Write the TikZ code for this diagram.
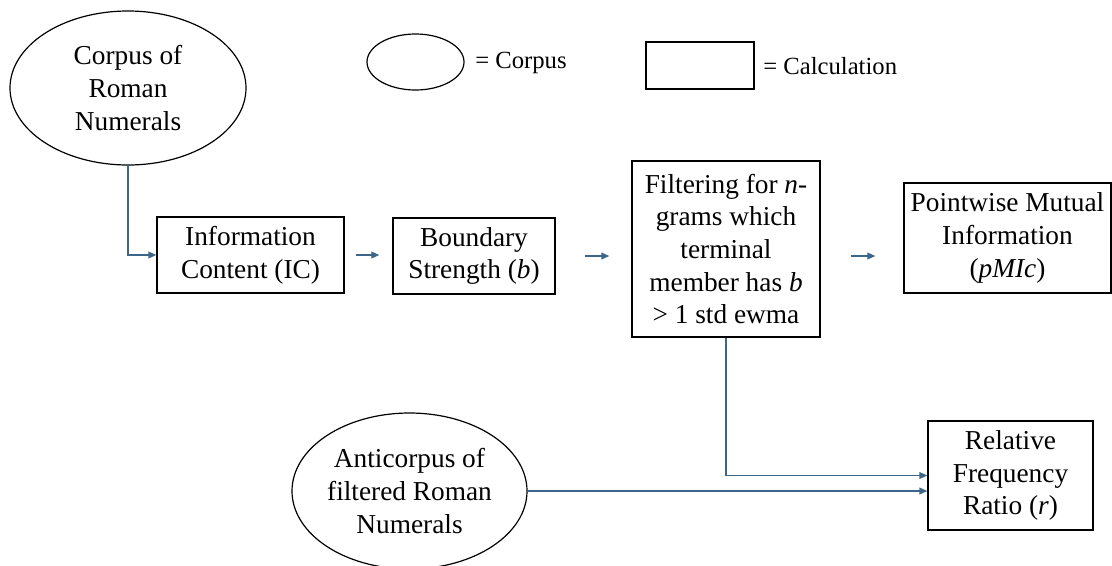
\documentclass[tikz,border=0pt]{standalone}
\usepackage{fontspec}
\setmainfont{Liberation Serif}
\usetikzlibrary{arrows.meta,shapes.geometric}
\definecolor{conncol}{HTML}{3B6689}
\tikzset{
  calcbox/.style={draw=black, line width=0.9pt, inner sep=0pt, align=center,
    font=\fontsize{20.5}{24.5}\selectfont},
  corpusell/.style={draw=black, line width=0.9pt, ellipse, inner sep=0pt, align=center,
    font=\fontsize{20.5}{24.5}\selectfont},
  conn/.style={draw=conncol, line width=1.1pt, -{Triangle[length=6pt,width=5pt]}},
  legendtext/.style={inner sep=0pt, anchor=west, font=\fontsize{18.5}{22}\selectfont}
}
\begin{document}
\begin{tikzpicture}[x=0.75pt,y=-0.75pt]
\useasboundingbox (0,0) rectangle (1112,565);
% legend
\node[corpusell, minimum width=72.75pt, minimum height=42pt] (legell) at (415.5,62) {};
\node[legendtext] (legelltext) at (475,63) {= Corpus};
\node[calcbox, minimum width=81pt, minimum height=35.25pt] (legbox) at (700,65.5) {};
\node[legendtext] (legboxtext) at (763,66) {= Calculation};
% main nodes
\node[corpusell, minimum width=177pt, minimum height=115.5pt] (corpus) at (128,88) {Corpus of\\Roman\\Numerals};
\node[calcbox, minimum width=140.25pt, minimum height=57pt] (ic) at (250.5,255) {Information\\Content (IC)};
\node[calcbox, minimum width=121.5pt, minimum height=57pt] (bs) at (474,256) {Boundary\\Strength (\textit{b})};
\node[calcbox, minimum width=141pt, minimum height=132pt] (filt) at (726,249) {Filtering for \textit{n}-\\grams which\\terminal\\member has \textit{b}\\> 1 std ewma};
\node[calcbox, minimum width=155.25pt, minimum height=82.5pt] (pmi) at (1007.5,238) {Pointwise Mutual\\Information\\(\textit{pMIc})};
\node[calcbox, minimum width=123.75pt, minimum height=81.75pt] (rfr) at (1010.5,475.5) {Relative\\Frequency\\Ratio (\textit{r})};
\node[corpusell, minimum width=176.25pt, minimum height=117pt] (anti) at (409.5,491) {Anticorpus of\\filtered Roman\\Numerals};
% connectors
\draw[conn] (corpus.south) |- (ic.west);
\draw[conn, shorten <=8.25pt, shorten >=9.75pt] (ic.east) -- (ic.east -| bs.west);
\draw[conn, shorten <=21.75pt, shorten >=16.5pt] (bs.east) -- (bs.east -| filt.west);
\draw[conn, shorten <=22.5pt, shorten >=21pt] (filt.east |- bs.east) -- (bs.east -| pmi.west);
\draw[conn] (filt.south) |- (rfr.west);
\draw[conn] (anti.east) -- (anti.east -| rfr.west);
\end{tikzpicture}
\end{document}
